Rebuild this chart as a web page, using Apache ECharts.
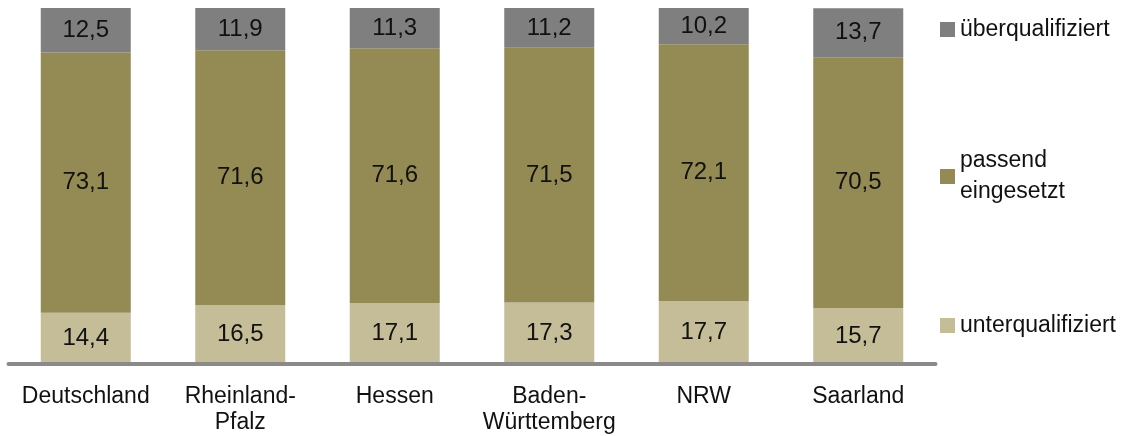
<!DOCTYPE html>
<html>
<head>
<meta charset="utf-8">
<script src="https://cdn.jsdelivr.net/npm/echarts@6/dist/echarts.min.js"></script>
<style>html,body{margin:0;padding:0;background:#fff}#c{width:1143px;height:436px}</style>
</head>
<body>
<div id="c"></div>
<script>
const categories = ['Deutschland', 'Rheinland-\nPfalz', 'Hessen', 'Baden-\nWürttemberg', 'NRW', 'Saarland'];
const unterqualifiziert = [14.4, 16.5, 17.1, 17.3, 17.7, 15.7];
const passendEingesetzt = [73.1, 71.6, 71.6, 71.5, 72.1, 70.5];
const ueberqualifiziert = [12.5, 11.9, 11.3, 11.2, 10.2, 13.7];
const seriesNames = ['unterqualifiziert', 'passend\neingesetzt', 'überqualifiziert'];

const FONT = '"Liberation Sans", Arial, sans-serif';
const chart = echarts.init(document.getElementById('c'), null, {renderer: 'canvas'});
const fmt = p => String(p.value).replace('.', ',');
const lbl = {show: true, position: 'inside', formatter: fmt, fontSize: 24, color: '#111', fontFamily: FONT};
const legendBase = {
  orient: 'vertical', left: 940, padding: 0, icon: 'rect', itemWidth: 15, itemHeight: 15, itemGap: 5,
  selectedMode: false,
  textStyle: {fontSize: 23, color: '#111', fontFamily: FONT}
};
chart.setOption({
  animation: false,
  grid: {left: 8.5, right: 207.5, top: 8, bottom: 71},
  xAxis: {
    type: 'category', data: categories, z: 10,
    axisLine: {lineStyle: {color: '#8a8a8a', width: 4}},
    axisTick: {show: false},
    axisLabel: {fontSize: 23, lineHeight: 26, color: '#111', fontFamily: FONT, margin: 20, interval: 0}
  },
  yAxis: {type: 'value', min: 0, max: 100, show: false},
  legend: [
    Object.assign({}, legendBase, {top: 18, data: [seriesNames[2]]}),
    Object.assign({}, legendBase, {top: 130, data: [seriesNames[1]],
      textStyle: {fontSize: 23, color: '#111', fontFamily: FONT, lineHeight: 31, padding: [31, 0, 0, 0]}}),
    Object.assign({}, legendBase, {top: 314, data: [seriesNames[0]]})
  ],
  series: [
    {name: seriesNames[0], type: 'bar', stack: 's', barWidth: 90, data: unterqualifiziert, itemStyle: {color: '#c4bd97'}, label: lbl},
    {name: seriesNames[1], type: 'bar', stack: 's', barWidth: 90, data: passendEingesetzt, itemStyle: {color: '#948a54'}, label: lbl},
    {name: seriesNames[2], type: 'bar', stack: 's', barWidth: 90, data: ueberqualifiziert, itemStyle: {color: '#7f7f7f'}, label: lbl}
  ]
});
</script>
</body>
</html>
